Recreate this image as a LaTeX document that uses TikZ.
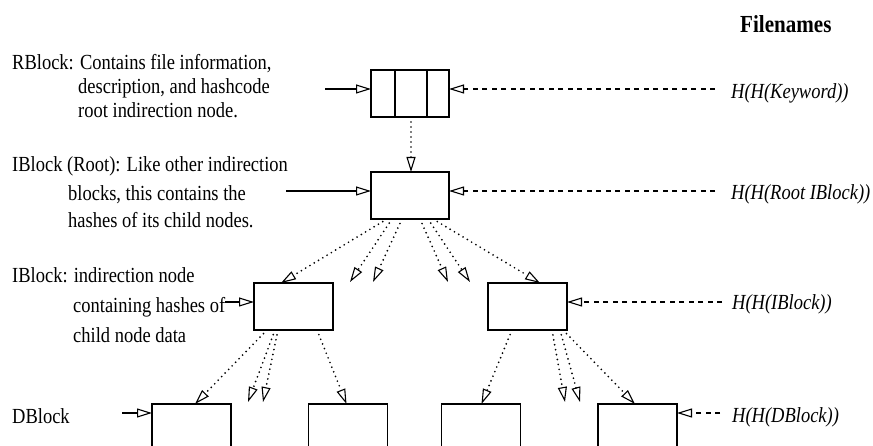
\documentclass[tikz,border=0pt]{standalone}
\usepackage{fontspec}
\setmainfont{Liberation Serif}[FakeStretch=0.86]
\usetikzlibrary{arrows.meta}
\begin{document}
\begin{tikzpicture}[x=1pt,y=-1pt,
  blk/.style={draw, line width=1.2pt, minimum width=78pt, minimum height=47pt, inner sep=0pt, outer sep=0pt},
  lbl/.style={anchor=base west, inner sep=0pt, font=\fontsize{21.5}{25}\selectfont},
  hl/.style={anchor=base west, inner sep=0pt, font=\fontsize{21.5}{25}\selectfont\itshape},
  tip/.style={-{Triangle[open,length=15pt,width=9pt,line width=1.1pt]}},
  solidarr/.style={tip, line width=1.3pt},
  dasharr/.style={tip, line width=1.3pt, dash pattern=on 5pt off 4.5pt},
  dotarr/.style={tip, line width=1.9pt, line cap=round, dash pattern=on 0pt off 5pt},
]
\useasboundingbox (0,0) rectangle (873,446);
\clip (0,0) rectangle (873,446);

% blocks
\node[blk] (rb) at (410,93.5) {};
\draw[line width=1.2pt] ([xshift=24pt]rb.north west) -- ([xshift=24pt]rb.south west);
\draw[line width=1.2pt] ([xshift=56pt]rb.north west) -- ([xshift=56pt]rb.south west);
\node[blk] (root) at (410,195.5) {};
\node[blk, minimum width=79pt] (il) at (293.5,306.5) {};
\node[blk, minimum width=79pt] (ir) at (527.5,306.5) {};
\node[blk, minimum width=79pt, minimum height=80pt] (d1) at (191.5,444) {};
\node[blk, minimum width=79pt, minimum height=80pt] (d2) at (348,444) {};
\node[blk, minimum width=79pt, minimum height=80pt] (d3) at (481,444) {};
\node[blk, minimum width=79pt, minimum height=80pt] (d4) at (637.5,444) {};

% left labels
\node[lbl] (t1) at (12,70) {RBlock: Contains file information,};
\node[lbl] (t2) at (78,94) {description, and hashcode};
\node[lbl] (t3) at (78,118) {root indirection node.};
\node[lbl] (t4) at (12,172) {IBlock (Root): Like other indirection};
\node[lbl] (t5) at (68,201) {blocks, this contains the};
\node[lbl] (t6) at (68,228) {hashes of its child nodes.};
\node[lbl] (t7) at (12,283) {IBlock: indirection node};
\node[lbl] (t8) at (73,313) {containing hashes of};
\node[lbl] (t9) at (73,342) {child node data};
\node[lbl] (t10) at (12,423) {DBlock};

% right labels
\node[anchor=base west, inner sep=0pt, font=\fontsize{24.5}{28}\selectfont\bfseries] (fn) at (740,33) {Filenames};
\node[hl] (h1) at (731,99) {H(H(Keyword))};
\node[hl] (h2) at (731,200) {H(H(Root IBlock))};
\node[hl] (h3) at (732,310) {H(H(IBlock))};
\node[hl] (h4) at (732,422) {H(H(DBlock))};

% incoming solid arrows
\coordinate (s1) at (325,89);
\coordinate (s2) at (286,191);
\coordinate (s3) at (225,302);
\coordinate (s4) at (122,413);
\draw[solidarr] (s1) -- (s1 -| rb.west);
\draw[solidarr] (s2) -- (s2 -| root.west);
\draw[solidarr] (s3) -- (s3 -| il.west);
\draw[solidarr] (s4) -- (s4 -| d1.west);

% dashed arrows from filenames
\coordinate (e1) at (715,89);
\coordinate (e2) at (715,191);
\coordinate (e3) at (722,302);
\coordinate (e4) at (720,413);
\draw[dasharr] (e1) -- (e1 -| rb.east);
\draw[dasharr] (e2) -- (e2 -| root.east);
\draw[dasharr] (e3) -- (e3 -| ir.east);
\draw[dasharr] (e4) -- (e4 -| d4.east);

% dotted: RBlock -> root
\draw[dotarr] ([xshift=40pt]rb.south west) -- ([xshift=40pt]root.north west);

% dotted: root -> children
\coordinate (p2) at (350,282);
\coordinate (p3) at (373,282);
\coordinate (p4) at (448,282);
\coordinate (p5) at (470,282);
\draw[dotarr] ([xshift=16pt]root.south west) -- ([xshift=27pt]il.north west);
\draw[dotarr] ([xshift=21pt]root.south west) -- (p2);
\draw[dotarr] ([xshift=31pt]root.south west) -- (p3);
\draw[dotarr] ([xshift=49pt]root.south west) -- (p4);
\draw[dotarr] ([xshift=57pt]root.south west) -- (p5);
\draw[dotarr] ([xshift=62pt]root.south west) -- ([xshift=52pt]ir.north west);

% dotted: left IBlock -> DBlocks
\coordinate (q2) at (248,402);
\coordinate (q3) at (263,402);
\draw[dotarr] ([xshift=13pt]il.south west) -- ([xshift=43pt]d1.north west);
\draw[dotarr] ([xshift=21pt]il.south west) -- (q2);
\draw[dotarr] ([xshift=24pt]il.south west) -- (q3);
\draw[dotarr] ([xshift=63pt]il.south west) -- ([xshift=38pt]d2.north west);

% dotted: right IBlock -> DBlocks
\coordinate (r2) at (565,402);
\coordinate (r3) at (580,402);
\draw[dotarr] ([xshift=24pt]ir.south west) -- ([xshift=40pt]d3.north west);
\draw[dotarr] ([xshift=64pt]ir.south west) -- (r2);
\draw[dotarr] ([xshift=72pt]ir.south west) -- (r3);
\draw[dotarr] ([xshift=75pt]ir.south west) -- ([xshift=37pt]d4.north west);
\end{tikzpicture}
\end{document}
